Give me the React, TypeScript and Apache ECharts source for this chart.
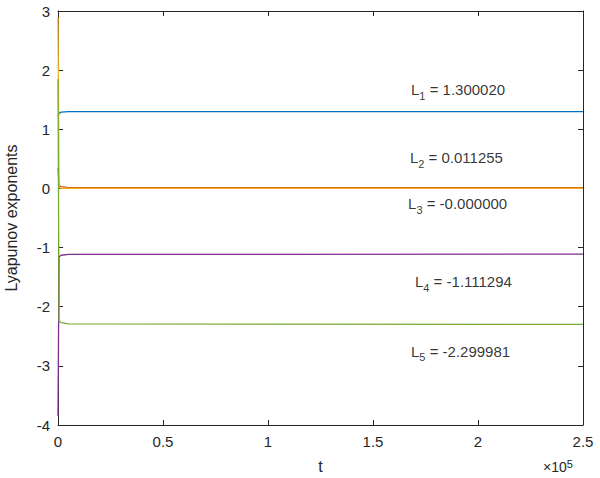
import React, { useEffect, useRef } from "react";
import * as echarts from "echarts";

const tPoints = [0, 500, 1500, 5000, 250000];
const L1 = [1.22, 1.27, 1.29, 1.298, 1.30002];
const L2 = [0.35, 0.05, 0.03, 0.015, 0.011255];
const L3 = [2.9, 0.02, 0.0, -0.0, -0.0];
const L4 = [-3.85, -1.16, -1.13, -1.115, -1.111294];
const L5 = [1.85, -2.24, -2.27, -2.29, -2.299981];
const seriesNames = ["L1", "L2", "L3", "L4", "L5"];
const seriesColors = ["#0072BD", "#D95319", "#EDB120", "#7E2F8E", "#77AC30"];
const finalLabels = ["1.300020", "0.011255", "-0.000000", "-1.111294", "-2.299981"];
const labelT = [168100, 167600, 166700, 170000, 168100];
const labelY = [1.67, 0.52, -0.26, -1.58, -2.75];
const xTickLabels = ["0", "0.5", "1", "1.5", "2", "2.5"];

const FONT = "'Liberation Sans', Arial, Helvetica, sans-serif";
const AX = "#262626";

export default function App() {
  const ref = useRef<HTMLDivElement>(null);
  useEffect(() => {
    if (!ref.current) return;
    const chart = echarts.init(ref.current, undefined, { renderer: "svg" });
    const all = [L1, L2, L3, L4, L5];
    const lineSeries = all.map((vals, i) => ({
      name: seriesNames[i],
      type: "line",
      data: tPoints.map((t, k) => [t, vals[k]]),
      showSymbol: false,
      symbol: "none",
      lineStyle: { color: seriesColors[i], width: 1.3 },
      itemStyle: { color: seriesColors[i] },
      z: 2 + i,
    }));
    const labelSeries = {
      type: "scatter",
      symbolSize: 0,
      silent: true,
      z: 10,
      data: finalLabels.map((v, i) => ({
        value: [labelT[i], labelY[i]],
        label: {
          show: true,
          position: "right",
          distance: 0,
          formatter: `{m|L}{s|${i + 1}}{m| = ${v}}`,
          rich: {
            m: { fontSize: 15, fontFamily: FONT, color: "#000", lineHeight: 18 },
            s: { fontSize: 11, fontFamily: FONT, color: "#000", lineHeight: 12, padding: [12, 0, 0, 0] },
          },
        },
      })),
    };
    const tickStyle = { show: true, inside: true, length: 5, lineStyle: { color: AX, width: 1 } };
    const lineAx = { show: true, onZero: false, lineStyle: { color: AX, width: 1 } };
    chart.setOption({
      animation: false,
      backgroundColor: "#fff",
      grid: { left: 58, right: 17, top: 11, bottom: 53, containLabel: false, outerBoundsMode: "none" },
      xAxis: [
        {
          type: "value",
          min: 0,
          max: 250000,
          interval: 50000,
          position: "bottom",
          axisLine: lineAx,
          axisTick: tickStyle,
          splitLine: { show: false },
          axisLabel: {
            color: AX,
            fontSize: 15,
            fontFamily: FONT,
            margin: 9,
            formatter: (v: number) => xTickLabels[Math.round(v / 50000)] ?? "",
          },
          name: "t",
          nameLocation: "middle",
          nameGap: 33,
          nameTextStyle: { color: AX, fontSize: 16, fontFamily: FONT },
        },
        {
          type: "value",
          min: 0,
          max: 250000,
          interval: 50000,
          position: "top",
          axisLine: lineAx,
          axisTick: tickStyle,
          splitLine: { show: false },
          axisLabel: { show: false },
        },
      ],
      yAxis: [
        {
          type: "value",
          min: -4,
          max: 3,
          interval: 1,
          position: "left",
          axisLine: lineAx,
          axisTick: tickStyle,
          splitLine: { show: false },
          axisLabel: { color: AX, fontSize: 15, fontFamily: FONT, margin: 8 },
          name: "Lyapunov exponents",
          nameLocation: "middle",
          nameGap: 39,
          nameTextStyle: { color: AX, fontSize: 16, fontFamily: FONT },
        },
        {
          type: "value",
          min: -4,
          max: 3,
          interval: 1,
          position: "right",
          axisLine: lineAx,
          axisTick: tickStyle,
          splitLine: { show: false },
          axisLabel: { show: false },
        },
      ],
      graphic: [
        {
          type: "text",
          left: 543,
          top: 454,
          style: {
            text: "{b|×10}{p|5}",
            fill: AX,
            fontSize: 14,
            fontFamily: FONT,
            rich: {
              b: { fontSize: 14, fontFamily: FONT, fill: AX, lineHeight: 20, padding: [6, 0, 0, 0] },
              p: { fontSize: 11, fontFamily: FONT, fill: AX, lineHeight: 12 },
            },
          },
        },
      ],
      series: [...lineSeries, labelSeries],
    });
    return () => chart.dispose();
  }, []);
  return <div ref={ref} style={{ width: 600, height: 478, position: "absolute", left: 0, top: 0 }} />;
}
